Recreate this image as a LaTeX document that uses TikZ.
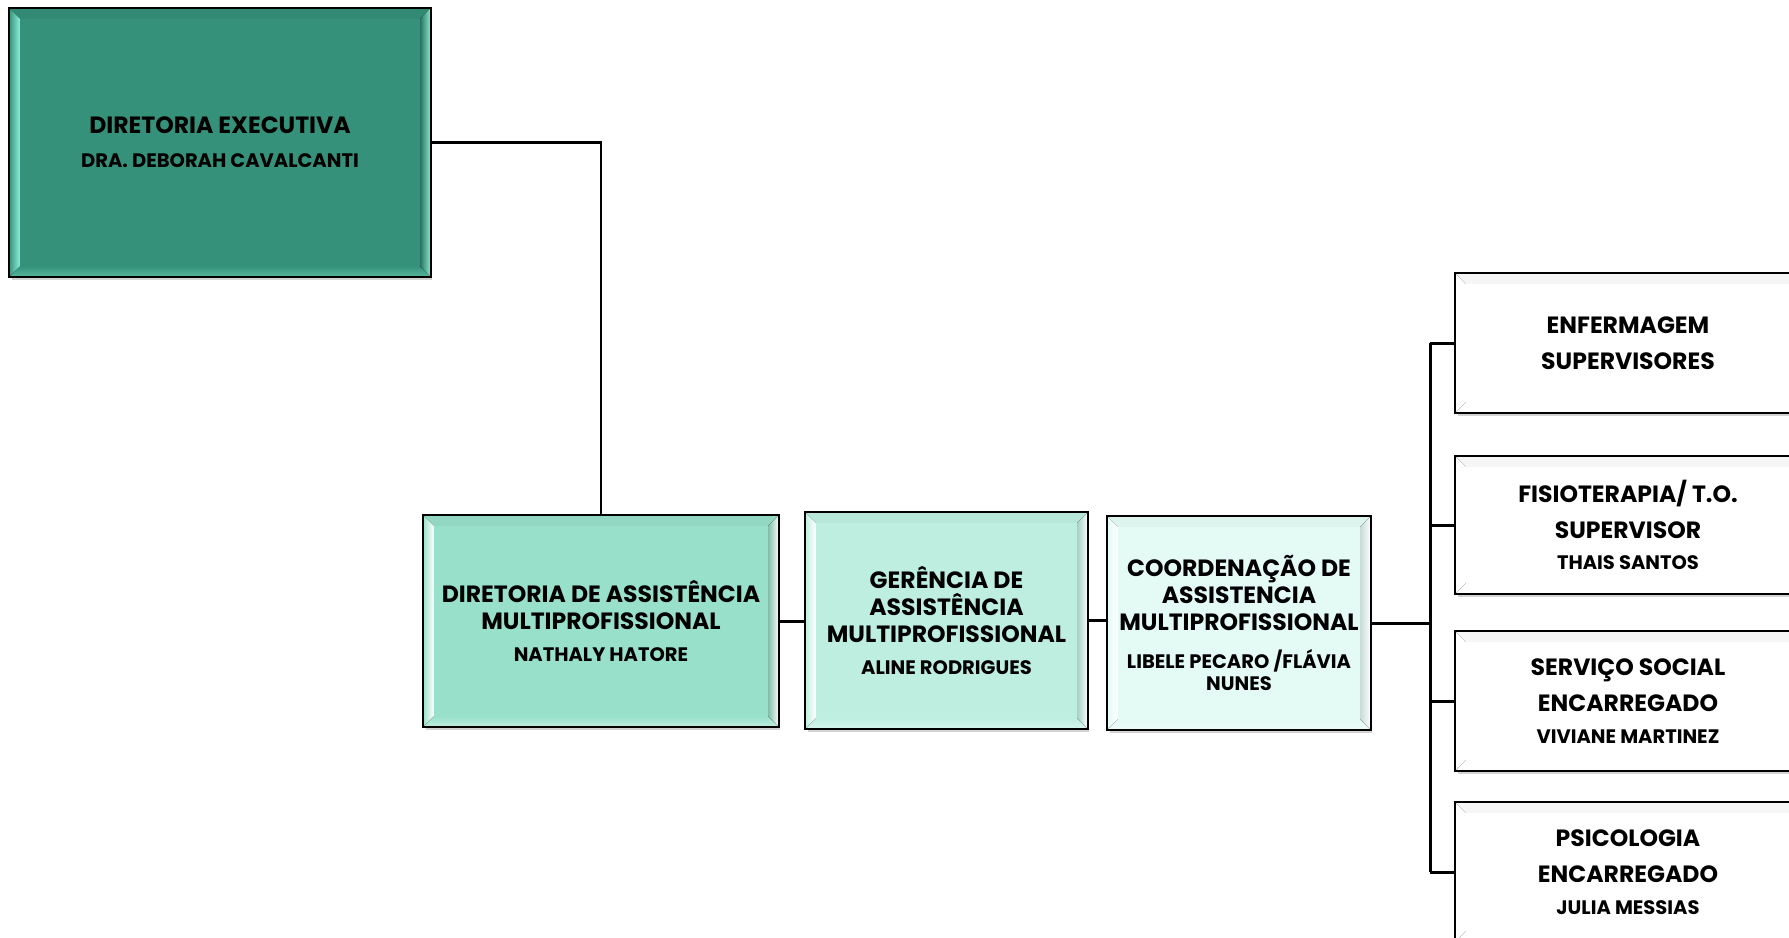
\documentclass[tikz,border=0pt]{standalone}
\usepackage{fontspec}
\setmainfont{Poppins}
\usetikzlibrary{calc,shadows}

\definecolor{execfill}{HTML}{35917A}
\definecolor{execlight}{HTML}{8CF0D6}
\colorlet{execdark}{execfill!80!black}
\definecolor{damfill}{HTML}{98E0CA}
\colorlet{damlight}{white}
\colorlet{damdark}{damfill!85!black}
\definecolor{gamfill}{HTML}{BDEEE0}
\colorlet{gamlight}{white}
\colorlet{gamdark}{gamfill!88!black}
\definecolor{camfill}{HTML}{E3FAF5}
\colorlet{camlight}{white}
\colorlet{camdark}{camfill!88!black}
\colorlet{unitfill}{white}
\colorlet{unitlight}{white}
\colorlet{unitdark}{black!14}

\newcommand{\ttl}{\fontsize{13.4}{15.4}\selectfont}
\newcommand{\nme}{\fontsize{11.1}{12.5}\selectfont}

\begin{document}
\begin{tikzpicture}[x=0.02cm, y=-0.02cm,
  box/.style = {draw=black, line width=1.3pt, align=center, font=\bfseries\ttl, inner sep=0pt,
    drop shadow={shadow xshift=1pt, shadow yshift=-2.5pt, opacity=0.35}},
  unit/.style = {box, fill=unitfill, minimum width=6.88cm, minimum height=2.76cm},
  line/.style = {line width=1.7pt}]

\useasboundingbox (0,0) rectangle (1789,937);

% boxes
\node[box, fill=execfill, minimum width=8.4cm, minimum height=5.34cm] (exec) at (220,142.5)
  {DIRETORIA EXECUTIVA\\[4pt] \nme DRA. DEBORAH CAVALCANTI};
\node[box, fill=damfill, minimum width=7.08cm, minimum height=4.2cm] (dam) at (601,621)
  {DIRETORIA DE ASSISTÊNCIA\\ MULTIPROFISSIONAL\\[3pt] \nme NATHALY HATORE};
\node[box, fill=gamfill, minimum width=5.62cm, minimum height=4.3cm] (gam) at (946.5,620.5)
  {GERÊNCIA DE\\ ASSISTÊNCIA\\ MULTIPROFISSIONAL\\[3pt] \nme ALINE RODRIGUES};
\node[box, fill=camfill, minimum width=5.24cm, minimum height=4.24cm] (cam) at (1239,623)
  {COORDENAÇÃO DE\\ ASSISTENCIA\\ MULTIPROFISSIONAL\\[6pt] \nme LIBELE PECARO /FLÁVIA\\[-3pt] \nme NUNES};

\node[unit] (enf) at (1628,343) {ENFERMAGEM\\[5pt] SUPERVISORES};
\node[unit, minimum height=2.72cm] (fis) at (1628,525)
  {FISIOTERAPIA/ T.O.\\[5pt] SUPERVISOR\\[2pt] \nme THAIS SANTOS};
\node[unit] (ser) at (1628,701)
  {SERVIÇO SOCIAL\\[5pt] ENCARREGADO\\[3pt] \nme VIVIANE MARTINEZ};
\node[unit] (psi) at (1628,872)
  {PSICOLOGIA\\[5pt] ENCARREGADO\\[3pt] \nme JULIA MESSIAS};

% bevels
\foreach \n/\f/\l/\d in {exec/execfill/execlight/execdark, dam/damfill/damlight/damdark,
    gam/gamfill/gamlight/gamdark, cam/camfill/camlight/camdark, enf/unitfill/unitlight/unitdark,
    fis/unitfill/unitlight/unitdark, ser/unitfill/unitlight/unitdark, psi/unitfill/unitlight/unitdark} {
  \fill[\f!75!\d] (\n.north west) -- (\n.north east) -- ($(\n.north east)+(-11,11)$) -- ($(\n.north west)+(11,11)$) -- cycle;
  \fill[top color=\f, bottom color=\f!60!\l] (\n.south west) -- (\n.south east) -- ($(\n.south east)+(-11,-11)$) -- ($(\n.south west)+(11,-11)$) -- cycle;
  \fill[left color=\f, right color=\l] (\n.north west) -- ($(\n.north west)+(11,11)$) -- ($(\n.south west)+(11,-11)$) -- (\n.south west) -- cycle;
  \fill[left color=\d, right color=\l] (\n.north east) -- ($(\n.north east)+(-11,11)$) -- ($(\n.south east)+(-11,-11)$) -- (\n.south east) -- cycle;
  \draw[line width=1.3pt] (\n.north west) rectangle (\n.south east);
}

% connectors
\coordinate (bus) at (1430,622);
\draw[line] (exec.east) -| (dam.north);
\draw[line] (dam.east) -- (dam.east -| gam.west);
\draw[line] (gam.east) -- (gam.east -| cam.west);
\draw[line] (cam.east) -- (cam.east -| bus);
\draw[line] (bus |- enf.west) -- (bus |- psi.west);
\foreach \n in {enf,fis,ser,psi} {\draw[line] (bus |- \n.west) -- (\n.west);}

\end{tikzpicture}
\end{document}
